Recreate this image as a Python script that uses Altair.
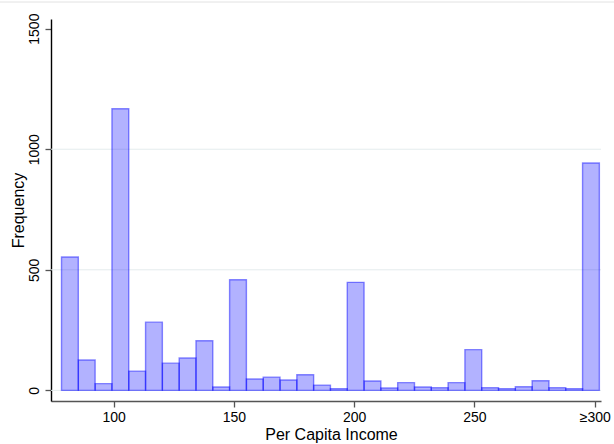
import altair as alt
import pandas as pd

# Histogram counts (32 equal-width bins)
counts = [553, 126, 28, 1168, 80, 283, 113, 134, 206, 14, 459, 47, 55, 43, 65, 22,
          7, 448, 39, 10, 32, 14, 11, 32, 169, 11, 7, 15, 40, 11, 7, 943]
bin_start = 78.37
bin_width = 6.986

y_tick_values = [0, 500, 1000, 1500]
grid_values = [0, 500, 1000]
x_tick_values = [100, 150, 200, 250, 300]
x_tick_labels = ["100", "150", "200", "250", "≥300"]

bars_df = pd.DataFrame({
    "lo": [bin_start + i * bin_width for i in range(len(counts))],
    "count": counts,
})
bars_df["hi"] = bars_df["lo"] + bin_width
grid_df = pd.DataFrame({"g": grid_values})

label_expr = "".join(
    f"datum.value == {v} ? '{l}' : " for v, l in zip(x_tick_values, x_tick_labels)
) + "datum.label"

FONT = "Liberation Sans"
x_scale = alt.Scale(domain=[74.0, 302.6], nice=False, zero=False)
y_scale = alt.Scale(domain=[-44, 1540], nice=False, zero=False)

y_axis = alt.Axis(
    values=y_tick_values, format="d", grid=False, labelAngle=-90, labelAlign="center",
    labelBaseline="middle", labelPadding=11, labelFontSize=14, labelFont=FONT,
    labelColor="#000000", tickSize=6, tickColor="#555555", tickWidth=1.3,
    domainColor="#000000", domainWidth=1.4, title="Frequency",
    titleFont=FONT, titleFontSize=16, titleFontWeight="normal", titleColor="#000000",
    titleX=-33, titleY=191, titleAlign="center", titleBaseline="middle",
    titleAngle=270, labelFlush=False,
)
x_axis = alt.Axis(
    values=x_tick_values, grid=False, labelExpr=label_expr, labelFontSize=14,
    labelFont=FONT, labelColor="#000000", labelPadding=3, labelFlush=False,
    tickSize=6, tickColor="#555555", tickWidth=1.3, domainColor="#555555",
    domainWidth=1.4, title="Per Capita Income", titleFont=FONT, titleFontSize=16,
    titleFontWeight="normal", titleColor="#000000", titleX=280, titleY=33,
    titleAlign="center", titleBaseline="middle",
)

grid = alt.Chart(grid_df).mark_rule(color="#e4eced", strokeWidth=1).encode(
    y=alt.Y("g:Q", scale=y_scale, axis=y_axis),
    x=alt.value(0),
    x2=alt.value(550),
)

bars = alt.Chart(bars_df).mark_rect(
    fill="#0000ff", fillOpacity=0.3, stroke="#0000ff", strokeOpacity=0.45,
    strokeWidth=1.4,
).encode(
    x=alt.X("lo:Q", scale=x_scale, axis=x_axis),
    x2="hi:Q",
    y=alt.Y("count:Q", scale=y_scale, axis=y_axis),
    y2=alt.datum(0),
)

topline = alt.Chart(grid_df).mark_rule(color="#eeeeee", strokeWidth=1).encode(
    x=alt.value(-51), x2=alt.value(563), y=alt.value(-17),
)

chart = alt.layer(grid, bars, topline).properties(
    width=550, height=382,
    autosize=alt.AutoSizeParams(type="none"),
    padding={"left": 51, "top": 19, "right": 13, "bottom": 43},
    background="#ffffff",
).configure_view(stroke=None)

chart.save("out.html", embed_options={"renderer": "svg", "actions": False})
